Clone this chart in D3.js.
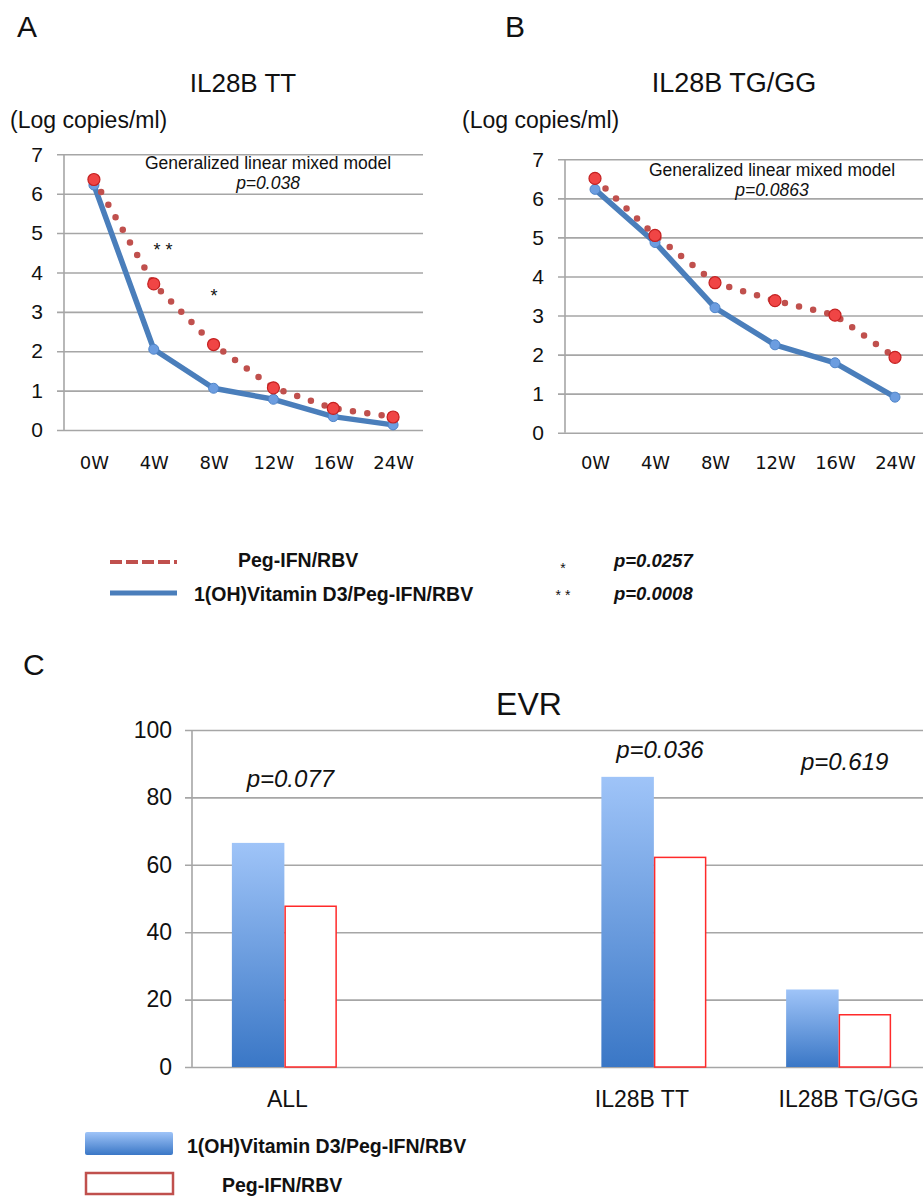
<!DOCTYPE html>
<html>
<head>
<meta charset="utf-8">
<script src="https://cdn.jsdelivr.net/npm/d3@7"></script>
<style>
  body { margin: 0; background: #fff; }
  svg { display: block; }
  text { font-family: "Liberation Sans", Arial, sans-serif; fill: #111; }
</style>
</head>
<body>
<svg id="chart" width="923" height="1197"></svg>
<script>
// ---- data ----
const weeks = ['0W', '4W', '8W', '12W', '16W', '24W']
const logTicks = [0, 1, 2, 3, 4, 5, 6, 7]

// panel A, IL28B TT
const ttVitD = [6.22, 2.05, 1.06, 0.78, 0.34, 0.13]
const ttPeg = [6.36, 3.71, 2.17, 1.07, 0.55, 0.33]
// panel B, IL28B TG/GG
const tgVitD = [6.23, 4.87, 3.20, 2.25, 1.79, 0.91]
const tgPeg = [6.51, 5.05, 3.84, 3.38, 3.01, 1.93]

// panel C, EVR (%), the second slot is an empty category in the original
const evrGroups = ['ALL', ' ', 'IL28B TT', 'IL28B TG/GG']
const evrVitD = [66.5, null, 86.1, 23.0]
const evrPeg = [47.7, null, 62.2, 15.5]
const evrTicks = [0, 20, 40, 60, 80, 100]
const evrPvals = ['p=0.077', null, 'p=0.036', 'p=0.619']

const seriesNames = ['1(OH)Vitamin D3/Peg-IFN/RBV', 'Peg-IFN/RBV']

const BLUE = '#4a7ebb'
const RED = '#c0504d'
const GRID = '#a6a6a6'

const svg = d3.select('#chart')

const defs = svg.append('defs')
const grad = defs.append('linearGradient')
  .attr('id', 'blueGrad').attr('x1', 0).attr('y1', 0).attr('x2', 0).attr('y2', 1)
grad.append('stop').attr('offset', '0%').attr('stop-color', '#9fc4f8')
grad.append('stop').attr('offset', '100%').attr('stop-color', '#3a77c6')

const txt = (x, y, s, size, opts = {}) => {
  const { anchor = 'start', weight = 'normal', style = 'normal', family } = opts
  const t = svg.append('text')
    .attr('x', x).attr('y', y)
    .attr('text-anchor', anchor)
    .attr('font-size', size)
    .attr('font-weight', weight)
    .attr('font-style', style)
    .text(s)
  if (family) t.style('font-family', family)
  return t
}

const drawLinePanel = (opts) => {
  const { left, right, top, bottom, vit, peg, note, labelY } = opts
  const x = d3.scalePoint().domain(weeks).range([left, right]).padding(0.5)
  const y = d3.scaleLinear().domain([0, 7]).range([bottom, top])
  const g = svg.append('g')

  // grid + y tick labels
  const ga = g.append('g')
    .attr('transform', `translate(${left - 7},0)`)
    .call(d3.axisLeft(y).tickValues(logTicks).tickFormat(d3.format('d'))
      .tickSize(-(right - left + 7)).tickPadding(14))
  ga.select('.domain').remove()
  ga.selectAll('line').attr('stroke', GRID).attr('stroke-width', 1.6)
  ga.selectAll('text').attr('font-size', 21).attr('fill', '#111')
    .style('font-family', '"Liberation Sans", Arial, sans-serif')

  g.append('line')
    .attr('x1', left).attr('x2', left).attr('y1', y(7)).attr('y2', y(0))
    .attr('stroke', GRID).attr('stroke-width', 1.6)

  // week labels
  const gx = g.append('g')
    .attr('transform', `translate(0,${bottom})`)
    .call(d3.axisBottom(x).tickSize(0))
  gx.select('.domain').remove()
  gx.selectAll('text')
    .attr('y', labelY - bottom).attr('dy', 0)
    .attr('font-size', 18).attr('fill', '#111')
    .style('font-family', '"DejaVu Sans", Verdana, sans-serif')

  const line = d3.line().x((d, i) => x(weeks[i])).y(d => y(d))

  g.append('path').datum(vit).attr('d', line)
    .attr('fill', 'none').attr('stroke', BLUE).attr('stroke-width', 5.5)
    .attr('stroke-linejoin', 'round')
  g.append('path').datum(peg).attr('d', line)
    .attr('fill', 'none').attr('stroke', RED).attr('stroke-width', 6.5)
    .attr('stroke-linecap', 'round').attr('stroke-dasharray', '0 14.5')

  g.selectAll('.vdot').data(vit).join('circle')
    .attr('cx', (d, i) => x(weeks[i])).attr('cy', d => y(d)).attr('r', 5)
    .attr('fill', '#6c9de0').attr('stroke', '#4f84c8').attr('stroke-width', 1)
  g.selectAll('.pdot').data(peg).join('circle')
    .attr('cx', (d, i) => x(weeks[i])).attr('cy', d => y(d)).attr('r', 6)
    .attr('fill', '#f04545').attr('stroke', '#c42020').attr('stroke-width', 1.2)

  txt(note.x, note.y, 'Generalized linear mixed model', 17.5, { anchor: 'middle' })
  txt(note.x, note.y + 20, note.p, 17.5, { anchor: 'middle', style: 'italic' })
  return { x, y }
}

// ---- panel A ----
txt(17, 37, 'A', 30)
txt(243, 92, 'IL28B TT', 26, { anchor: 'middle' })
txt(10, 128, '(Log copies/ml)', 23)
drawLinePanel({
  left: 64, right: 423, top: 154.3, bottom: 430, labelY: 469,
  vit: ttVitD, peg: ttPeg,
  note: { x: 268, y: 169, p: 'p=0.038' }
})
txt(163, 256, '* *', 18, { anchor: 'middle' })
txt(214, 302, '*', 18, { anchor: 'middle' })

// ---- panel B ----
txt(505, 37, 'B', 30)
txt(734, 92, 'IL28B TG/GG', 27, { anchor: 'middle' })
txt(462, 128, '(Log copies/ml)', 23)
drawLinePanel({
  left: 565, right: 925, top: 159.3, bottom: 432.7, labelY: 469,
  vit: tgVitD, peg: tgPeg,
  note: { x: 772, y: 176, p: 'p=0.0863' }
})

// ---- legend for A/B ----
svg.append('line').attr('x1', 110).attr('x2', 177).attr('y1', 562).attr('y2', 562)
  .attr('stroke', RED).attr('stroke-width', 4).attr('stroke-dasharray', '12 4')
txt(238, 567, seriesNames[1], 19.5, { weight: 'bold' })
svg.append('line').attr('x1', 110).attr('x2', 177).attr('y1', 593).attr('y2', 593)
  .attr('stroke', BLUE).attr('stroke-width', 5)
txt(194, 601, seriesNames[0], 19.5, { weight: 'bold' })
txt(563, 573, '*', 14, { anchor: 'middle' })
txt(563, 600, '* *', 14, { anchor: 'middle' })
txt(614, 567, 'p=0.0257', 18.5, { weight: 'bold', style: 'italic' })
txt(614, 600, 'p=0.0008', 18.5, { weight: 'bold', style: 'italic' })

// ---- panel C ----
txt(23, 675, 'C', 30)
txt(529, 715, 'EVR', 32, { anchor: 'middle' })

const cx = d3.scaleBand().domain(evrGroups).range([192, 931])
const cy = d3.scaleLinear().domain([0, 100]).range([1067, 730])
const inner = d3.scaleBand().domain(seriesNames).range([-52.5, 52.5])

const gc = svg.append('g')
const gca = gc.append('g')
  .attr('transform', 'translate(185,0)')
  .call(d3.axisLeft(cy).tickValues(evrTicks).tickSize(-(931 - 185)).tickPadding(13))
gca.select('.domain').remove()
gca.selectAll('line').attr('stroke', GRID).attr('stroke-width', 1.6)
gca.selectAll('text').attr('font-size', 23).attr('fill', '#111')
  .style('font-family', '"Liberation Sans", Arial, sans-serif')
gc.append('line').attr('x1', 192).attr('x2', 192).attr('y1', cy(100)).attr('y2', cy(0))
  .attr('stroke', GRID).attr('stroke-width', 1.6)

const center = g => cx(g) + cx.bandwidth() / 2

const rows = evrGroups.map((g, i) => ({ g, vit: evrVitD[i], peg: evrPeg[i], p: evrPvals[i] }))
  .filter(d => d.vit != null)

gc.selectAll('.bv').data(rows).join('rect')
  .attr('x', d => center(d.g) + inner(seriesNames[0]))
  .attr('y', d => cy(d.vit))
  .attr('width', inner.bandwidth())
  .attr('height', d => cy(0) - cy(d.vit))
  .attr('fill', 'url(#blueGrad)')
gc.selectAll('.bp').data(rows).join('rect')
  .attr('x', d => center(d.g) + inner(seriesNames[1]) + 0.75)
  .attr('y', d => cy(d.peg))
  .attr('width', inner.bandwidth() - 1.5)
  .attr('height', d => cy(0) - cy(d.peg))
  .attr('fill', '#fff').attr('stroke', '#ff2a2a').attr('stroke-width', 1.5)

// category labels, nudged the way they sit in the figure
const labelNudge = { 'ALL': 3, 'IL28B TT': -12, 'IL28B TG/GG': 10 }
const gcx = gc.append('g').attr('transform', 'translate(0,1067)')
  .call(d3.axisBottom(cx).tickSize(0))
gcx.select('.domain').remove()
gcx.selectAll('text').attr('y', 40).attr('dy', 0)
  .attr('dx', d => labelNudge[d] || 0)
  .attr('font-size', 23).attr('fill', '#111')
  .style('font-family', '"Liberation Sans", Arial, sans-serif')

// p values above the groups
const pY = { 'ALL': 787, 'IL28B TT': 758, 'IL28B TG/GG': 770 }
rows.forEach(d => {
  txt(center(d.g) + 6, pY[d.g], d.p, 24, { anchor: 'middle', style: 'italic' })
})

// ---- legend for C ----
svg.append('rect').attr('x', 85).attr('y', 1132).attr('width', 88).attr('height', 23)
  .attr('rx', 2).attr('fill', 'url(#blueGrad)')
svg.append('rect').attr('x', 86).attr('y', 1173).attr('width', 87).attr('height', 21)
  .attr('fill', '#fff').attr('stroke', RED).attr('stroke-width', 2.5)
txt(187, 1153, seriesNames[0], 19.5, { weight: 'bold' })
txt(222, 1192, seriesNames[1], 19.5, { weight: 'bold' })
</script>
</body>
</html>
